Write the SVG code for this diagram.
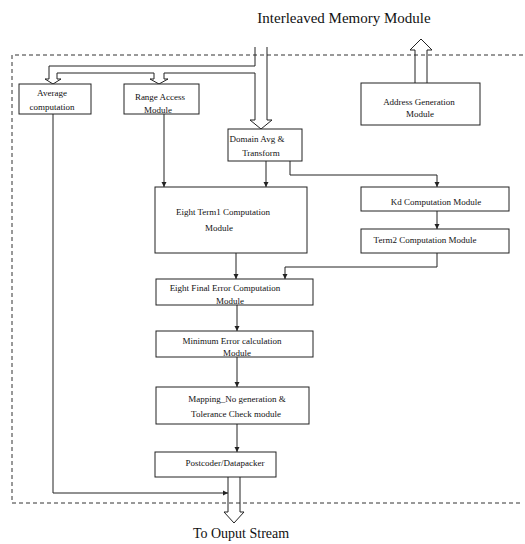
<svg xmlns="http://www.w3.org/2000/svg" width="525" height="544" viewBox="0 0 525 544">
<style>
.box{fill:#fff;stroke:#222;stroke-width:1}
.ln{fill:none;stroke:#222;stroke-width:1}
.dash{fill:none;stroke:#333;stroke-width:1;stroke-dasharray:4 3}
.t{font-family:"Liberation Serif","Times New Roman",serif;font-size:9px;fill:#111;text-anchor:middle}
.big{font-family:"Liberation Serif","Times New Roman",serif;font-size:15px;fill:#111;text-anchor:middle}
</style>
<defs>
<marker id="ah" markerWidth="6" markerHeight="6" refX="5" refY="3" orient="auto" markerUnits="userSpaceOnUse">
<path d="M0,0.5 L5,3 L0,5.5 Z" fill="#222"/>
</marker>
</defs>
<text class="big" x="344" y="23">Interleaved  Memory Module</text>
<text class="big" x="241" y="538" style="font-size:14px">To Ouput Stream</text>
<path class="dash" d="M523,55 H12 V503 H523"/>
<g id="connectors">
<polyline class="ln" points="255,47 255,66 49,66 49,79"/>
<polyline class="ln" points="57,79 57,73 154,73 154,79"/>
<polyline class="ln" points="164,79 164,73 255,73 255,120"/>
<line class="ln" x1="267" y1="47" x2="267" y2="120"/>
<polyline class="ln" points="49,79 45,79 53,84 61,79 57,79"/>
<polyline class="ln" points="154,79 150,79 159,84 168,79 164,79"/>
<polyline class="ln" points="255,120 250,120 261,129 272,120 267,120"/>
<polyline class="ln" points="415,83 415,50 410,50 421,39 432,50 427,50 427,83"/>
<polyline class="ln" points="228,477 228,512 224,512 234,523 244,512 240,512 240,477"/>
<polyline class="ln" points="53,114 53,493 228,493" marker-end="url(#ah)"/>
<line class="ln" x1="164" y1="114" x2="164" y2="187" marker-end="url(#ah)"/>
<line class="ln" x1="266" y1="161" x2="266" y2="187" marker-end="url(#ah)"/>
<polyline class="ln" points="290,161 290,175 437,175 437,187" marker-end="url(#ah)"/>
<line class="ln" x1="437" y1="211" x2="437" y2="229" marker-end="url(#ah)"/>
<polyline class="ln" points="437,253 437,267 285,267 285,279" marker-end="url(#ah)"/>
<line class="ln" x1="236" y1="253" x2="236" y2="279" marker-end="url(#ah)"/>
<line class="ln" x1="237" y1="305" x2="237" y2="331" marker-end="url(#ah)"/>
<line class="ln" x1="237" y1="357" x2="237" y2="387" marker-end="url(#ah)"/>
<line class="ln" x1="237" y1="424" x2="237" y2="452" marker-end="url(#ah)"/>
</g>
<g id="average">
<rect class="box" x="19" y="84" width="72" height="30"/>
<text class="t" x="52" y="96">Average</text>
<text class="t" x="52" y="110">computation</text>
</g>
<g id="range">
<rect class="box" x="124" y="84" width="75" height="30"/>
<text class="t" x="160" y="100">Range Access</text>
<text class="t" x="158" y="113">Module</text>
</g>
<g id="domain">
<rect class="box" x="228" y="129" width="74" height="32"/>
<text class="t" x="257" y="142">Domain Avg &amp;</text>
<text class="t" x="261" y="156">Transform</text>
</g>
<g id="address">
<rect class="box" x="361" y="83" width="119" height="42"/>
<text class="t" x="419" y="105">Address Generation</text>
<text class="t" x="420" y="117">Module</text>
</g>
<g id="term1">
<rect class="box" x="155" y="187" width="152" height="66"/>
<text class="t" x="223" y="215">Eight Term1 Computation</text>
<text class="t" x="219" y="231">Module</text>
</g>
<g id="kd">
<rect class="box" x="361" y="187" width="148" height="24"/>
<text class="t" x="436" y="205">Kd Computation Module</text>
</g>
<g id="term2">
<rect class="box" x="361" y="229" width="148" height="24"/>
<text class="t" x="425" y="243">Term2 Computation Module</text>
</g>
<g id="final">
<rect class="box" x="156" y="279" width="157" height="26"/>
<text class="t" x="225" y="291">Eight Final Error Computation</text>
<text class="t" x="230" y="304">Module</text>
</g>
<g id="minimum">
<rect class="box" x="156" y="331" width="157" height="26"/>
<text class="t" x="232" y="344">Minimum Error calculation</text>
<text class="t" x="237" y="356">Module</text>
</g>
<g id="mapping">
<rect class="box" x="156" y="387" width="153" height="37"/>
<text class="t" x="237" y="402">Mapping_No generation &amp;</text>
<text class="t" x="236" y="417">Tolerance Check module</text>
</g>
<g id="postcoder">
<rect class="box" x="155" y="452" width="121" height="25"/>
<text class="t" x="225" y="466">Postcoder/Datapacker</text>
</g>
</svg>
